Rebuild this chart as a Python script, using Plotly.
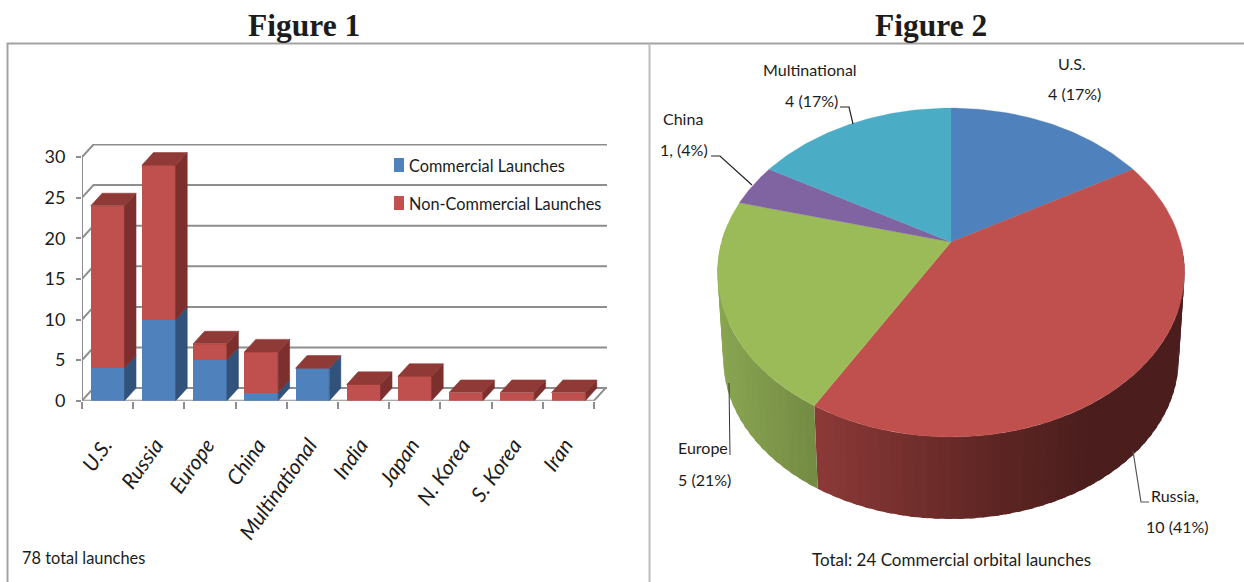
import math
import plotly.graph_objects as go

# ---------- data ----------
bar_categories = ["U.S.", "Russia", "Europe", "China", "Multinational", "India", "Japan", "N. Korea", "S. Korea", "Iran"]
commercial = [4, 10, 5, 1, 4, 0, 0, 0, 0, 0]
non_commercial = [20, 19, 2, 5, 0, 2, 3, 1, 1, 1]
y_ticks = [0, 5, 10, 15, 20, 25, 30]
pie_categories = ["U.S.", "Russia", "Europe", "China", "Multinational"]
pie_values = [4, 10, 5, 1, 4]

# ---------- style ----------
W, H = 1244, 582
TXT = "Lato"
FS = 16
INK = "#1c1c1c"
GRID = "#8e8e8e"
BLUE, RED, GREEN, PURPLE, TEAL = "#4F81BD", "#C0504D", "#9BBB59", "#8064A2", "#4BACC6"
BLUE_SIDE, RED_SIDE, RED_TOP = "#31527A", "#7C2F2D", "#903A37"

PX_L, PX_R, PX_B, PX_T = 82, 607, 400.7, 144
UX, UY = 51.2, 8.12           # pixels per category / per launch
DX, DY = 11.5 / UX, 12.6 / UY  # depth of the 3-D box in axis units
BW = 0.66
xr = [0, (PX_R - PX_L) / UX]
yr = [0, (PX_B - PX_T) / UY]
xdom = [PX_L / W, PX_R / W]
ydom = [1 - PX_B / H, 1 - PX_T / H]

fig = go.Figure()


def poly(xs, ys, color, xa, ya, lw=0.6):
    fig.add_trace(go.Scatter(x=xs, y=ys, mode="lines", fill="toself", fillcolor=color,
                             line=dict(color=color, width=lw), xaxis=xa, yaxis=ya,
                             showlegend=False, hoverinfo="skip"))


def line(xs, ys, color=GRID, w=2, xa="x", ya="y"):
    fig.add_trace(go.Scatter(x=xs, y=ys, mode="lines", line=dict(color=color, width=w),
                             xaxis=xa, yaxis=ya, showlegend=False, hoverinfo="skip"))


# walls and floor behind the bars
n = len(bar_categories)
for v in y_ticks:
    line([0, DX, xr[1]], [v, v + DY, v + DY])
line([0, 0], [0, max(y_ticks)])
line([0, n, n + DX], [0, 0, DY])

# front faces
centres = [i + 0.5 for i in range(n)]
fig.add_trace(go.Bar(x=centres, y=commercial, width=BW, name="Commercial Launches",
                     marker=dict(color=BLUE, line=dict(width=0)), xaxis="x2", yaxis="y2",
                     showlegend=False, hoverinfo="x+y"))
fig.add_trace(go.Bar(x=centres, y=non_commercial, width=BW, name="Non-Commercial Launches",
                     marker=dict(color=RED, line=dict(width=0)), xaxis="x2", yaxis="y2",
                     showlegend=False, hoverinfo="x+y"))

# side and top faces
for c, a, b in zip(centres, commercial, non_commercial):
    r = c + BW / 2
    l = c - BW / 2
    if a > 0:
        poly([r, r + DX, r + DX, r, r], [0, DY, a + DY, a, 0], BLUE_SIDE, "x2", "y2")
    if b > 0:
        poly([r, r + DX, r + DX, r, r], [a, a + DY, a + b + DY, a + b, a], RED_SIDE, "x2", "y2")
    t = a + b
    poly([l, r, r + DX, l + DX, l], [t, t, t + DY, t + DY, t], RED_TOP, "x2", "y2")

# ---------- tilted pie, projected from the values ----------
PCX, PCY = 951, 242
A, B, K = 229.5, 158.8, 0.1854
DROP, SHRINK = 87, 0.975


def proj(deg, cy=PCY, s=1.0):
    t = math.radians(deg)
    u, v = math.sin(t), math.cos(t)
    d = 1 + K * v
    return PCX + s * A * u / d, cy - s * B * v / d


def mix(stops, x):
    if x <= stops[0][0]:
        return stops[0][1]
    for (x0, c0), (x1, c1) in zip(stops, stops[1:]):
        if x <= x1:
            f = (x - x0) / (x1 - x0)
            return tuple(round(p + (q - p) * f) for p, q in zip(c0, c1))
    return stops[-1][1]


total = sum(pie_values)
cum = [0]
for v in pie_values:
    cum.append(cum[-1] + v * 360 / total)
pie_colors = [BLUE, RED, GREEN, PURPLE, TEAL]
side_stops = {
    1: [(817, (139, 57, 55)), (1000, (92, 37, 35)), (1090, (75, 30, 29)), (1190, (75, 30, 29))],
    2: [(718, (137, 165, 81)), (815, (116, 139, 67))],
}


def side(idx, start, end):
    """Draw the rim as strips; each strip overlaps its neighbour so no seams show."""
    steps = max(int(abs(end - start) / 2.5), 1)
    h = (end - start) / steps
    for j in range(steps):
        a0 = start + h * j
        a1 = end if j == steps - 1 else a0 + h * 1.5
        arc = [a0 + (a1 - a0) * m / 4 for m in range(5)]
        top = [proj(a) for a in arc]
        bot = [proj(a, PCY + DROP, SHRINK) for a in reversed(arc)]
        ring = top + bot + [top[0]]
        col = mix(side_stops[idx], (proj(a0)[0] + proj(a0 + h)[0]) / 2)
        poly([p[0] for p in ring], [p[1] for p in ring], "rgb(%d,%d,%d)" % col, "x3", "y3", lw=0)


side(1, 92, cum[2])
side(2, cum[3] - 8, cum[2])

for i, col in enumerate(pie_colors):
    pts = [proj(cum[i] + (cum[i + 1] - cum[i]) * j / 60) for j in range(61)]
    xs = [PCX] + [p[0] for p in pts] + [PCX]
    ys = [PCY] + [p[1] for p in pts] + [PCY]
    poly(xs, ys, col, "x3", "y3", lw=0.3)

# ---------- text ----------
def label(txt, x, y, size=FS, family=TXT, bold=False, anchor="center"):
    fig.add_annotation(text="<b>%s</b>" % txt if bold else txt, x=x / W, y=1 - y / H, xref="paper",
                       yref="paper", showarrow=False, xanchor=anchor, yanchor="middle",
                       xshift=0, font=dict(family=family, size=size, color=INK))


label("Figure 1", 304, 26, size=31.5, family="Liberation Serif", bold=True)
label("Figure 2", 931, 26, size=31.5, family="Liberation Serif", bold=True)
label("78 total launches", 20, 557, size=16.4, anchor="left")
label("Total: 24 Commercial orbital launches", 951, 559, size=17)
for txt, x, y in [("U.S.", 1072, 63), ("4 (17%)", 1074, 94),
                  ("Multinational", 810, 69), ("4 (17%)", 811, 100),
                  ("China", 683, 119), ("1, (4%)", 684, 149),
                  ("Europe", 703, 447), ("5 (21%)", 704, 479),
                  ("Russia,", 1175, 495), ("10 (41%)", 1177, 526)]:
    label(txt, x, y)

# legend, drawn to the reference's narrow swatches
label("Commercial Launches", 407, 165, size=16.3, anchor="left")
label("Non-Commercial Launches", 407, 203, size=16.3, anchor="left")

# ---------- frame and leader lines ----------
shapes = []


def seg(pts, color, w):
    path = "M" + " L".join("%.5f,%.5f" % (x / W, 1 - y / H) for x, y in pts)
    shapes.append(dict(type="path", path=path, xref="paper", yref="paper",
                       line=dict(color=color, width=w)))


def swatch(x0, x1, y0, y1, color):
    shapes.append(dict(type="rect", x0=x0 / W, x1=x1 / W, y0=1 - y0 / H, y1=1 - y1 / H,
                       xref="paper", yref="paper", fillcolor=color, line=dict(width=0)))


swatch(394, 404, 158, 172, BLUE)
swatch(394, 404, 196, 210, RED)
seg([(7.5, 582), (7.5, 43.5), (1244, 43.5)], "#a3a3a3", 2)
seg([(649.5, 43.5), (649.5, 582)], "#bdbdbd", 2)
seg([(711, 156), (720, 156), (752, 185)], "#222222", 1.2)
seg([(840, 107), (849, 107), (853, 124)], "#222222", 1.2)
seg([(729, 383), (730, 455)], "#333333", 1)
seg([(1133, 451), (1141, 502), (1149, 502)], "#555555", 1.2)

fig.update_layout(
    width=W, height=H, autosize=False, margin=dict(l=0, r=0, t=0, b=0, autoexpand=False),
    paper_bgcolor="white", plot_bgcolor="rgba(0,0,0,0)", barmode="stack", shapes=shapes,
    hovermode="closest", showlegend=False,
    xaxis=dict(domain=xdom, range=xr, tickmode="array", tickvals=list(range(n + 1)), ticktext=[""] * (n + 1),
               ticks="outside", ticklen=7, tickwidth=2, tickcolor=GRID, showgrid=False, zeroline=False,
               showline=False, fixedrange=True, automargin=False),
    yaxis=dict(domain=ydom, range=yr, tickmode="array", tickvals=y_ticks, ticks="outside", ticklen=5,
               tickwidth=2, tickcolor=GRID, showgrid=False, zeroline=False, showline=False, fixedrange=True,
               tickfont=dict(family=TXT, size=18, color=INK), ticklabelstandoff=7, automargin=False),
    xaxis2=dict(domain=xdom, range=xr, overlaying="x", tickmode="array", tickvals=[c - 0.06 for c in centres],
                ticktext=bar_categories, tickangle=-55, ticks="", showgrid=False, zeroline=False,
                showline=False, side="bottom", anchor="y2", fixedrange=True, ticklabelstandoff=27,
                automargin=False, tickfont=dict(family=TXT, size=21, color=INK, style="italic")),
    yaxis2=dict(domain=ydom, range=yr, overlaying="y", showticklabels=False, ticks="", showgrid=False,
                zeroline=False, showline=False, anchor="x2", fixedrange=True, automargin=False),
    xaxis3=dict(domain=[650 / W, 1], range=[650, W], visible=False, fixedrange=True, anchor="y3", automargin=False),
    yaxis3=dict(domain=[0, 1 - 44 / H], range=[H, 44], visible=False, fixedrange=True, anchor="x3", automargin=False),
)

fig.write_html("out.html", config={"displayModeBar": False},
               post_script="document.body.style.margin='0';document.body.style.overflow='hidden';")
